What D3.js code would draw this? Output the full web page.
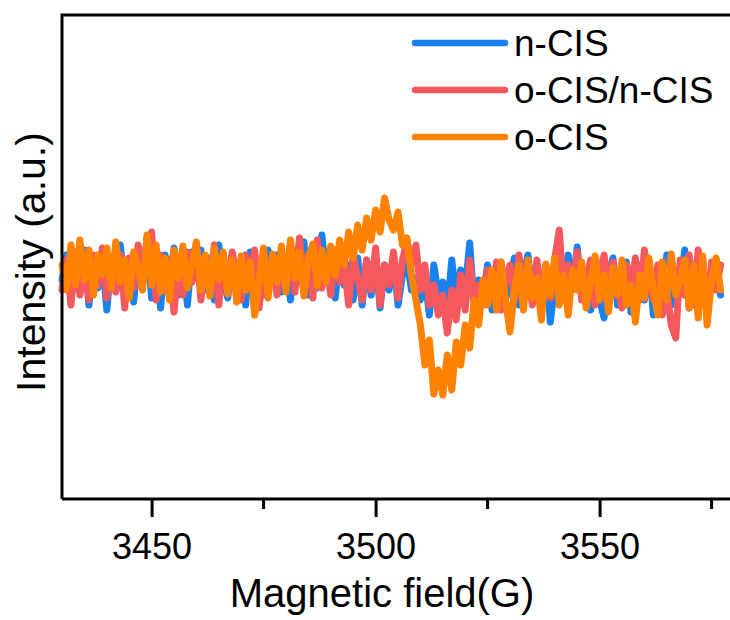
<!DOCTYPE html>
<html>
<head>
<meta charset="utf-8">
<script src="https://cdn.jsdelivr.net/npm/d3@7"></script>
<style>
  html, body { margin: 0; padding: 0; background: #fff; }
  svg { display: block; font-family: "Liberation Sans", Arial, sans-serif; }
</style>
</head>
<body>
<svg id="chart" width="730" height="620"></svg>
<script>
// EPR spectra, one intensity reading per gauss from 3430 G to 3577 G
const fieldStart = 3430;

const nCIS = [
  -10, 15, -30, 8, -22, 20, -35, 5, -18, 12,
  -40, 10, -20, 25, -15, 5, -32, 18, -8, 33,
  -28, 10, -38, 15, -12, 22, -25, 8, -35, 18,
  -5, 20, -20, 12, -30, 25, -10, -28, 15, -20,
  10, -35, 18, -15, 5, -25, 20, -10, 15, -22,
  8, -30, 20, -12, 28, -25, 10, -18, 35, -8,
  15, -28, 20, -15, 5, -30, 12, -35, 10, -25,
  15, -38, 5, -20, 12, -35, -5, 10, -20, -8,
  -30, -5, -45, 5, -25, -12, -40, 10, -30, 0,
  -20, 27, -35, -10, -28, 5, -40, -15, 8, -30,
  -10, 12, -35, -5, 15, -25, 0, -38, 5, -52,
  -15, 8, -30, 15, -20, 23, -25, -5, -40, 10,
  -30, -48, -5, 12, -35, -10, 8, -42, -15, 5,
  -30, 10, -45, -8, -25, 15, -35, 0, -20, 20,
  -38, 5, -22, 12, -45, -5, 10, -25
];

const oCISnCIS = [
  -20, 10, -35, 18, -25, 5, -30, 15, -15, 22,
  -28, 8, -22, 15, -38, 12, -18, 25, -10, 20,
  38, -30, 15, -20, 10, -42, 5, -25, 18, -12,
  22, -30, 8, -18, 25, -35, 12, -22, 18, -8,
  -30, 15, -10, 20, -38, 5, -20, 12, -25, 18,
  -15, 28, -22, 32, -10, 15, -28, 30, -18, 8,
  -25, 20, -12, 5, -35, 15, -8, -30, 10, -20,
  22, -35, 5, -15, 18, -28, 10, 30, 5, 25,
  -20, 5, -35, -15, -45, -25, -63, -20, -50, -5,
  -40, 10, -30, -15, -35, 0, -25, 8, -40, -10,
  5, -30, 15, -20, -5, -35, 10, -22, 0, -28,
  12, 40, -25, 5, -15, 18, -30, -8, 10, -35,
  -5, 15, -25, 8, -20, -38, 5, -15, 12, -30,
  20, -10, -30, 5, -45, -20, -55, -68, 10, -25,
  15, -35, 20, -15, -40, 8, -20, 5
];

const oCIS = [
  5, -20, 25, -15, 30, -10, 20, -25, 15, -5,
  22, -18, 28, -12, 10, -28, 18, 2, -20, 35,
  -15, 25, -22, 12, -30, 20, -8, 24, -18, 6,
  28, -20, 15, -26, 22, -10, 18, -24, 10, -32,
  14, -20, 8, -45, -10, 22, -28, 16, -12, 24,
  -22, 30, -8, 18, -26, 12, 26, -16, 20, -12,
  24, -5, 30, 5, 38, 12, 45, 20, 52, 30,
  60, 38, 72, 50, 40, 58, 25, 32, -5, -30,
  -55, -95, -70, -124, -100, -125, -85, -120, -72, -95,
  -55, -78, -30, -55, -10, -35, 0, -40, 8, -30,
  -62, -20, 5, -40, 10, -28, -8, -50, 6, -25,
  12, -35, -5, -45, 0, -20, 8, -38, -12, 14,
  -30, -5, -42, 2, -25, 10, -35, -15, -52, -5,
  -28, 12, -20, -45, 8, -30, 16, -25, -10, 10,
  -38, 5, -48, 14, -55, -10, 12, -20
];

const seriesNames = ["n-CIS", "o-CIS/n-CIS", "o-CIS"];
const seriesValues = [nCIS, oCISnCIS, oCIS];
const seriesColors = ["#1a82ef", "#f5585d", "#ff8203"];

const xTicksMajor = [3450, 3500, 3550];
const xTicksMinor = [3475, 3525, 3575];

const svg = d3.select("#chart");
const margin = { left: 62, top: 15, bottom: 499, right: 734 };

const x = d3.scaleLinear().domain([3430, 3580]).range([margin.left, margin.right]);
const y = d3.scaleLinear().domain([-229, 255]).range([margin.bottom, margin.top]);

// traces
const line = d3.line()
  .x((d, i) => x(fieldStart + i))
  .y(d => y(d));

svg.append("g")
  .selectAll("path")
  .data(seriesValues)
  .join("path")
  .attr("d", line)
  .attr("fill", "none")
  .attr("stroke", (d, i) => seriesColors[i])
  .attr("stroke-width", 7)
  .attr("stroke-linejoin", "round")
  .attr("stroke-linecap", "round");

// frame: left and top edges (right edge runs past the canvas)
svg.append("path")
  .attr("d", `M${margin.left},${margin.bottom}V${margin.top}H${margin.right}`)
  .attr("fill", "none")
  .attr("stroke", "#000")
  .attr("stroke-width", 3);

// bottom axis with major and minor ticks
const axisG = svg.append("g").attr("transform", `translate(0,${margin.bottom})`);
axisG.call(d3.axisBottom(x).tickValues(xTicksMajor).tickSize(18).tickFormat(d3.format("d")));
axisG.select(".domain").attr("stroke-width", 3).attr("d", `M${margin.left},0H${margin.right}`);
axisG.selectAll(".tick line").attr("stroke-width", 3);
axisG.selectAll(".tick text")
  .attr("font-size", 36)
  .attr("fill", "#000")
  .attr("dy", 0)
  .attr("y", 60);

axisG.selectAll(".minor")
  .data(xTicksMinor)
  .join("line")
  .attr("class", "minor")
  .attr("x1", d => x(d)).attr("x2", d => x(d))
  .attr("y1", 0).attr("y2", 10)
  .attr("stroke", "#000")
  .attr("stroke-width", 3);

// axis titles
svg.append("text")
  .attr("x", 382).attr("y", 607)
  .attr("text-anchor", "middle")
  .attr("font-size", 40)
  .text("Magnetic field(G)");

svg.append("text")
  .attr("transform", "translate(45,262) rotate(-90)")
  .attr("text-anchor", "middle")
  .attr("font-size", 41)
  .text("Intensity (a.u.)");

// legend
const legend = svg.append("g");
const legendY = [43, 90, 137];
seriesNames.forEach((name, i) => {
  legend.append("line")
    .attr("x1", 415).attr("x2", 505)
    .attr("y1", legendY[i]).attr("y2", legendY[i])
    .attr("stroke", seriesColors[i])
    .attr("stroke-width", 6.5)
    .attr("stroke-linecap", "round");
  legend.append("text")
    .attr("x", 514).attr("y", legendY[i] + 13)
    .attr("font-size", 37)
    .text(name);
});
</script>
</body>
</html>
